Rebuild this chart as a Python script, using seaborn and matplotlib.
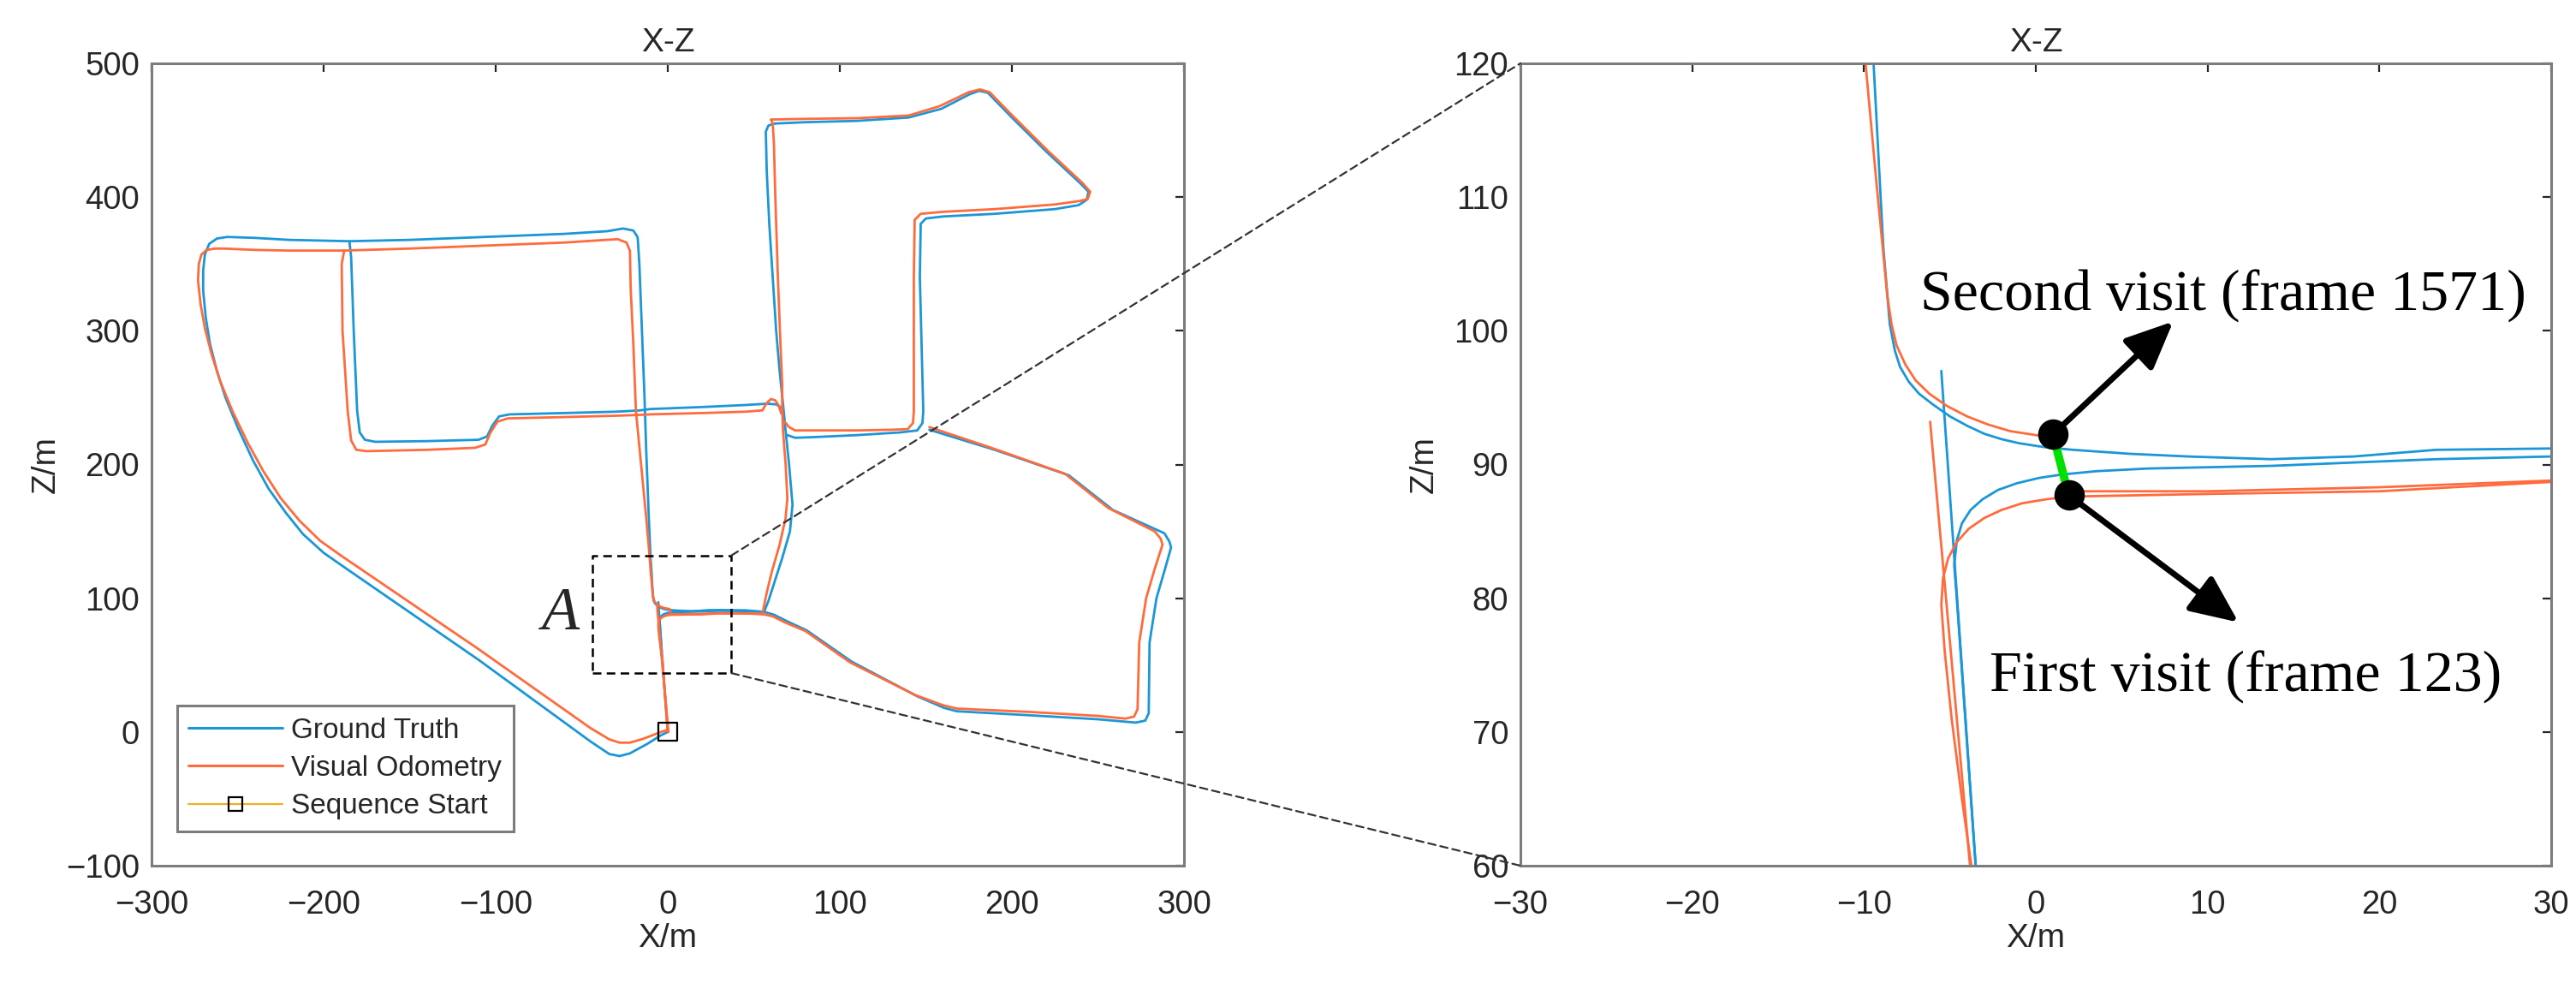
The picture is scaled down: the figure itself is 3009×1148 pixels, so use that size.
import pandas as pd
import seaborn as sns
import matplotlib.pyplot as plt
from matplotlib.lines import Line2D
from matplotlib.patches import ConnectionPatch


# ground truth path, split into road pieces (x, z in metres)
GT_WEST = [(0.0, 0.0), (-4.0, -2.5), (-12.0, -9.0), (-22.0, -16.0), (-28.0, -18.0), (-34.0, -16.5),
           (-45.0, -7.0), (-110.0, 54.0), (-190.0, 125.0), (-200.0, 134.0), (-212.0, 148.0),
           (-222.0, 164.0), (-232.0, 182.0), (-241.0, 203.0), (-250.0, 228.0), (-257.0, 250.0),
           (-262.0, 270.0), (-266.0, 290.0), (-268.5, 310.0), (-270.0, 330.0), (-270.0, 345.0),
           (-269.0, 357.0), (-266.5, 365.0), (-262.0, 369.0), (-256.0, 370.2), (-240.0, 369.5),
           (-220.0, 368.0), (-185.0, 367.0), (-150.0, 368.0), (-120.0, 369.5), (-90.0, 371.0),
           (-60.0, 372.5), (-35.0, 374.5), (-26.0, 376.5), (-20.0, 375.0), (-17.5, 370.0),
           (-16.5, 350.0), (-15.0, 300.0), (-13.5, 250.0), (-12.5, 210.0), (-11.0, 160.0),
           (-10.0, 130.0), (-9.46, 120.4), (-8.88, 106.3), (-8.5, 100.5), (-8.2, 98.5),
           (-7.9, 97.3), (-7.4, 96.2), (-6.8, 95.3), (-6.0, 94.5), (-5.0, 93.6), (-4.0, 92.9),
           (-3.0, 92.3), (-2.0, 91.9), (-1.0, 91.6), (0.5, 91.3), (2.16, 91.1), (5.5, 90.8),
           (8.9, 90.6), (13.7, 90.4), (18.5, 90.6), (23.3, 91.1), (30.0, 91.2), (45.0, 91.0),
           (56.0, 89.8)]
GT_START = [(0.0, 0.0), (-3.5, 60.0), (-5.5, 97.0)]
GT_FIRST = [(-3.5, 60.0), (-4.6, 80.0), (-4.75, 82.5), (-4.6, 84.3), (-4.3, 85.6), (-3.8, 86.6),
            (-3.1, 87.4), (-2.2, 88.1), (-1.1, 88.6), (0.2, 89.0), (1.5, 89.25), (3.5, 89.5),
            (6.5, 89.7), (13.7, 89.9), (23.3, 90.4), (30.0, 90.6), (45.0, 90.4), (56.0, 89.8)]
GT_SOUTHEAST = [(56.0, 89.8), (61.7, 87.7), (69.0, 83.0), (80.7, 76.0), (107.0, 52.5), (145.0, 26.7),
                (160.6, 18.0), (168.0, 15.5), (210.0, 12.5), (250.0, 9.5), (272.0, 7.0), (277.5, 8.5),
                (279.5, 14.0), (280.0, 67.0), (284.0, 100.0), (289.0, 122.0), (292.5, 138.0),
                (291.5, 142.5), (288.6, 148.6), (258.7, 166.0), (233.0, 192.0), (190.0, 211.0),
                (152.0, 226.0)]
GT_CENTRE = [(62.0, 455.0), (58.5, 453.5), (57.0, 449.0), (57.5, 420.0), (59.0, 380.0), (61.0, 340.0),
             (63.0, 300.0), (65.0, 270.0), (67.0, 245.0), (68.5, 225.0), (70.5, 200.0), (72.5, 170.0),
             (71.0, 150.0), (66.5, 130.0), (62.0, 112.0), (58.5, 98.0), (56.0, 89.8)]
GT_NORTHEAST = [(62.0, 455.0), (80.0, 456.0), (110.0, 457.0), (140.0, 459.5), (159.0, 466.0),
                (175.6, 477.0), (181.0, 479.5), (186.0, 478.0), (200.0, 459.5), (220.0, 434.0),
                (240.0, 410.0), (244.5, 404.0), (243.5, 398.0), (238.8, 394.0), (225.0, 391.0),
                (190.0, 387.5), (160.0, 385.5), (150.0, 384.0), (147.0, 380.0), (146.5, 340.0),
                (147.5, 290.0), (148.5, 240.0), (148.0, 231.0), (145.0, 225.5), (135.0, 224.0),
                (110.0, 222.0), (85.0, 220.5), (74.0, 220.0), (69.5, 222.0)]
GT_LEFT_BOX = [(-185.0, 367.0), (-184.0, 355.0), (-182.5, 300.0), (-180.5, 240.0), (-179.0, 224.0),
               (-176.0, 218.5), (-170.0, 217.0), (-140.0, 217.5), (-110.0, 218.5), (-105.0, 221.0),
               (-102.0, 229.0), (-98.0, 236.0), (-92.0, 237.5), (-60.0, 238.5), (-30.0, 239.5),
               (-16.0, 240.5), (-10.0, 241.5), (20.0, 243.0), (45.0, 244.5), (58.0, 245.5),
               (63.0, 245.0), (66.5, 242.0), (67.5, 236.0)]

# visual odometry path, same pieces
VO_WEST = [(-0.5, 1.5), (-5.0, -0.5), (-14.0, -5.0), (-22.0, -8.0), (-28.0, -8.0), (-34.0, -5.5),
           (-45.0, 3.0), (-110.0, 62.0), (-190.0, 132.0), (-202.0, 143.0), (-214.0, 158.0),
           (-225.0, 175.0), (-235.0, 195.0), (-244.0, 216.0), (-253.0, 240.0), (-260.0, 262.0),
           (-265.0, 282.0), (-269.0, 302.0), (-271.5, 320.0), (-273.0, 338.0), (-272.5, 350.0),
           (-271.0, 357.0), (-268.0, 360.5), (-263.0, 361.5), (-258.0, 361.5), (-240.0, 360.5),
           (-220.0, 360.0), (-188.0, 360.0), (-150.0, 361.5), (-120.0, 363.0), (-90.0, 364.5),
           (-60.0, 366.0), (-36.0, 368.0), (-29.0, 368.5), (-24.0, 366.0), (-22.0, 360.0),
           (-21.5, 330.0), (-20.0, 290.0), (-18.5, 240.0), (-15.5, 200.0), (-12.5, 160.0),
           (-10.8, 135.0), (-9.94, 120.4), (-9.27, 111.0), (-8.64, 102.6), (-8.4, 100.5),
           (-8.1, 98.9), (-7.6, 97.5), (-7.0, 96.3), (-6.2, 95.3), (-5.2, 94.4), (-4.0, 93.6),
           (-2.8, 93.0), (-1.5, 92.5), (0.0, 92.2), (1.0, 92.0), (1.95, 88.0), (10.0, 88.0),
           (20.0, 88.3), (30.0, 88.8), (45.0, 88.7), (55.0, 88.2)]
VO_START = [(0.4, 0.0), (-3.85, 60.3), (-6.15, 93.2)]
VO_FIRST = [(0.0, 0.0), (-3.2, 55.0), (-4.3, 65.0), (-4.9, 71.0), (-5.3, 76.0), (-5.5, 79.5),
            (-5.4, 81.5), (-5.1, 83.0), (-4.6, 84.2), (-3.9, 85.2), (-3.0, 86.0), (-2.0, 86.6),
            (-0.8, 87.1), (0.6, 87.4), (1.9, 87.6), (10.0, 87.8), (20.0, 88.0), (30.0, 88.7),
            (45.0, 88.6), (55.0, 88.2)]
VO_SOUTHEAST = [(55.0, 88.2), (61.0, 86.5), (68.0, 82.0), (80.0, 75.5), (106.0, 52.0), (144.0, 27.5),
                (160.0, 20.0), (168.0, 17.5), (210.0, 15.0), (250.0, 12.0), (266.0, 10.0),
                (271.0, 11.5), (273.0, 17.0), (274.0, 67.0), (278.0, 100.0), (283.0, 122.0),
                (287.5, 140.0), (286.5, 144.5), (283.0, 150.0), (256.0, 167.5), (231.0, 193.0),
                (188.0, 212.5), (152.0, 228.0)]
VO_CENTRE = [(60.0, 458.0), (61.0, 455.0), (61.7, 440.0), (62.5, 400.0), (64.0, 340.0), (65.5, 290.0),
             (66.5, 260.0), (66.5, 245.0), (67.0, 225.0), (68.5, 200.0), (69.5, 175.0), (68.5, 160.0),
             (65.0, 140.0), (60.5, 120.0), (57.5, 104.0), (55.0, 88.2)]
VO_NORTHEAST = [(60.0, 458.0), (80.0, 458.5), (110.0, 459.0), (140.0, 461.0), (158.0, 468.0),
                (175.0, 478.5), (181.5, 480.5), (187.0, 478.5), (201.0, 460.0), (221.0, 434.5),
                (241.0, 410.5), (245.5, 404.0), (244.0, 398.5), (239.0, 397.0), (225.0, 394.5),
                (190.0, 391.0), (160.0, 389.0), (147.0, 387.5), (143.5, 383.0), (143.0, 340.0),
                (143.0, 290.0), (143.0, 240.0), (142.5, 231.0), (139.5, 226.5), (130.0, 226.0),
                (110.0, 225.5), (85.0, 225.5), (74.0, 225.5), (70.5, 228.0), (68.0, 232.0)]
VO_LEFT_BOX = [(-188.0, 360.0), (-189.5, 350.0), (-189.0, 300.0), (-186.0, 240.0), (-184.0, 218.0),
               (-181.0, 211.0), (-175.0, 210.0), (-140.0, 211.0), (-112.0, 212.5), (-106.0, 215.0),
               (-103.0, 224.0), (-99.0, 232.0), (-93.0, 234.5), (-60.0, 235.5), (-30.0, 236.5),
               (-18.5, 237.0), (-10.0, 237.5), (20.0, 238.5), (45.0, 239.5), (55.0, 240.5),
               (57.5, 246.0), (60.0, 249.0), (62.5, 248.0), (64.5, 244.0), (66.0, 238.0)]

START_X = [0.0]
START_Z = [0.0]

# zoom box A and the loop closure pair
BOX_X = [-44.0, 37.0, 37.0, -44.0, -44.0]
BOX_Z = [44.0, 44.0, 132.0, 132.0, 44.0]
VISIT_X = [1.0, 1.92]       # second visit, first visit
VISIT_Z = [92.25, 87.7]
VISIT_LABELS = ["Second visit (frame 1571)", "First visit (frame 123)"]
ARROW_TIPS = [(8.0, 100.7), (11.8, 78.2)]
LABEL_POS = [(10.9, 102.6), (12.2, 74.1)]

LEGEND_LABELS = ["Ground Truth", "Visual Odometry", "Sequence Start"]

BLUE = "#1b96d6"
ORANGE = "#ff6b3d"
GOLD = "#edb120"
SPINE = "#7c7c7c"
TEXT = "#262626"


def to_frame(segs: list) -> pd.DataFrame:
    rows = []
    for i, seg in enumerate(segs):
        for x, z in seg:
            rows.append((i, x, z))
    return pd.DataFrame(rows, columns=["seg", "x", "z"])


def draw_paths(ax, gt: pd.DataFrame, vo: pd.DataFrame) -> None:
    sns.lineplot(data=gt, x="x", y="z", units="seg", estimator=None, sort=False,
                 color=BLUE, lw=2.0, ax=ax, legend=False)
    sns.lineplot(data=vo, x="x", y="z", units="seg", estimator=None, sort=False,
                 color=ORANGE, lw=2.0, ax=ax, legend=False)


def style_axes(ax, xticks, yticks, ylabelpad):
    ax.set_xticks(xticks)
    ax.set_yticks(yticks)
    ax.set_xlim(xticks[0], xticks[-1])
    ax.set_ylim(yticks[0], yticks[-1])
    ax.tick_params(direction="in", length=7, width=1.6, color=TEXT, labelsize=27.5,
                   labelcolor=TEXT, top=True, right=True)
    ax.tick_params(axis="x", pad=20)
    ax.tick_params(axis="y", pad=10)
    for s in ax.spines.values():
        s.set_visible(True)
        s.set_color(SPINE)
        s.set_linewidth(2.2)
    ax.set_xlabel("X/m", fontsize=28, color=TEXT, labelpad=2)
    ax.set_ylabel("Z/m", fontsize=28, color=TEXT, labelpad=ylabelpad)
    ax.set_title("X-Z", fontsize=28, color=TEXT, pad=10)


def main():
    sns.set_style("white")
    plt.rcParams["font.family"] = ["Liberation Sans", "DejaVu Sans"]

    gt = to_frame([GT_WEST, GT_START, GT_FIRST, GT_SOUTHEAST, GT_CENTRE, GT_NORTHEAST, GT_LEFT_BOX])
    vo = to_frame([VO_WEST, VO_START, VO_FIRST, VO_SOUTHEAST, VO_CENTRE, VO_NORTHEAST, VO_LEFT_BOX])
    box = pd.DataFrame({"x": BOX_X, "z": BOX_Z, "seg": 0})

    fig = plt.figure(figsize=(30.09, 11.48), dpi=100)
    ax1 = fig.add_axes([177 / 3009, 1 - 1011 / 1148, 1206 / 3009, 937 / 1148])
    ax2 = fig.add_axes([1776 / 3009, 1 - 1011 / 1148, 1204 / 3009, 937 / 1148])

    # full trajectory
    draw_paths(ax1, gt, vo)
    sns.scatterplot(x=START_X, y=START_Z, marker="s", s=230, facecolor="none",
                    edgecolor="black", linewidth=1.6, ax=ax1, zorder=5)
    sns.lineplot(data=box, x="x", y="z", units="seg", estimator=None, sort=False,
                 color="black", lw=1.8, linestyle=(0, (4, 2.5)), ax=ax1, zorder=6)
    ax1.text(-62, 88, "A", fontsize=52, fontstyle="italic",
             family=["Liberation Serif", "DejaVu Serif"], ha="center", va="center")
    style_axes(ax1, list(range(-300, 301, 100)), list(range(-100, 501, 100)), 4)

    handles = [Line2D([], [], color=BLUE, lw=2.2),
               Line2D([], [], color=ORANGE, lw=2.2),
               Line2D([], [], color=GOLD, lw=1.6, marker="s", markersize=12,
                      markerfacecolor="none", markeredgecolor="black", markeredgewidth=1.6)]
    leg = ax1.legend(handles, LEGEND_LABELS, loc="lower left", bbox_to_anchor=(0.025, 0.043),
                     borderaxespad=0, fontsize=24, handlelength=3.3, handletextpad=0.3,
                     labelspacing=0.4, borderpad=0.4, fancybox=False, framealpha=1)
    leg.get_frame().set_edgecolor(SPINE)
    leg.get_frame().set_linewidth(2.2)
    for t in leg.get_texts():
        t.set_color(TEXT)

    # zoom on A
    draw_paths(ax2, gt, vo)
    sns.lineplot(x=VISIT_X, y=VISIT_Z, sort=False, estimator=None, color="#00e000", lw=7,
                 ax=ax2, zorder=5)
    sns.scatterplot(x=VISIT_X, y=VISIT_Z, s=560, color="black", edgecolor="black", ax=ax2, zorder=7)
    for (x0, z0), tip, pos, label in zip(zip(VISIT_X, VISIT_Z), ARROW_TIPS, LABEL_POS, VISIT_LABELS):
        ax2.annotate("", xy=tip, xytext=(x0, z0),
                     arrowprops=dict(arrowstyle="-|>,head_length=0.85,head_width=0.38",
                                     mutation_scale=40, lw=5, color="black",
                                     shrinkA=0, shrinkB=0), zorder=8)
        ax2.text(pos[0], pos[1], label, fontsize=49, family=["Liberation Serif", "DejaVu Serif"],
                 ha="center", va="center", color="black", zorder=9)
    style_axes(ax2, list(range(-30, 31, 10)), list(range(60, 121, 10)), 12)

    # dashed leaders from box A to the zoomed axes
    for zc, yfrac in ((BOX_Z[2], 1.0), (BOX_Z[0], 0.0)):
        con = ConnectionPatch(xyA=(BOX_X[1], zc), coordsA=ax1.transData,
                              xyB=(0.0, yfrac), coordsB=ax2.transAxes,
                              color="#333333", lw=1.6, linestyle=(0, (4, 2.5)))
        fig.add_artist(con)

    fig.savefig("out.png", dpi=100)
    plt.close("all")


if __name__ == "__main__":
    main()
